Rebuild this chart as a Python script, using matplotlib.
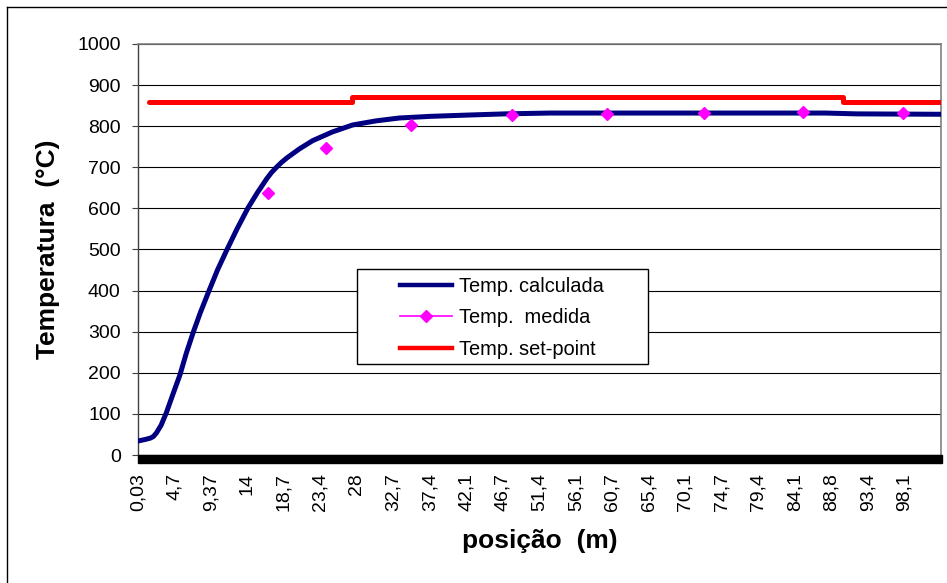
import matplotlib
matplotlib.use("Agg")
import matplotlib.pyplot as plt
from matplotlib.lines import Line2D
from matplotlib.patches import Rectangle

plt.rcParams['font.family'] = ['Liberation Sans', 'DejaVu Sans']

# perfil de temperatura calculado ao longo do forno
pos_calc = [0.03, 1.0, 1.6, 2.0, 2.4, 3.0, 3.7, 4.5, 5.4, 6.2, 7.07, 8.0, 9.0,
            10.2, 11.4, 12.7, 14.1, 15.3, 15.9, 16.5, 17.1, 17.8, 18.4, 19.1,
            20.7, 22.4, 24.9, 27.5, 30.5, 33.5, 37.5, 42.1, 47.0, 52.7, 60.0,
            70.0, 80.0, 88.0, 92.0, 102.8]
temp_calc = [34, 38, 41, 45, 54, 73, 105, 148, 195, 247, 297, 346, 394,
             450, 499, 550, 601, 638, 655, 672, 687, 701, 712, 723,
             745, 765, 786, 803, 813, 820, 824, 827, 830, 832, 832,
             832, 832, 832, 830, 829]

# termopares
pos_med = [16.66, 24.08, 34.96, 47.88, 60.03, 72.44, 85.1, 97.9]
temp_med = [637, 746, 802, 827, 830, 833, 835, 832]

# set-point por zona
pos_sp = [1.44, 27.4, 90.2, 102.8]
temp_sp = [860, 870, 860, 860]

tick_labels = ["0,03", "4,7", "9,37", "14", "18,7", "23,4", "28", "32,7", "37,4",
               "42,1", "46,7", "51,4", "56,1", "60,7", "65,4", "70,1", "74,7",
               "79,4", "84,1", "88,8", "93,4", "98,1"]

W, H = 947, 583
fig = plt.figure(figsize=(W / 100, H / 100), dpi=100)
fig.patch.set_facecolor('white')

def fx(px):
    return px / W

def fy(py):
    return 1 - py / H

ax = fig.add_axes([fx(138), fy(455), fx(941) - fx(138), fy(44) - fy(455)])

ax.plot(pos_calc, temp_calc, color='#000080', lw=3.6, solid_capstyle='round',
        solid_joinstyle='round', zorder=4)
ax.plot(pos_med, temp_med, ls='none', marker='D', ms=6.2, color='#FF00FF',
        mec='#FF00FF', zorder=5)
ax.plot(pos_sp, temp_sp, drawstyle='steps-post', color='#FF0000', lw=3.6,
        solid_capstyle='round', zorder=3)

ax.set_xlim(0.03, 102.8)
ax.set_ylim(0, 1000)
ax.set_yticks(range(0, 1001, 100))
ax.yaxis.grid(True, color='black', lw=0.8)
ax.set_axisbelow(True)

step = 4.67
ax.set_xticks([0.03 + i * step for i in range(len(tick_labels))])
ax.set_xticklabels(tick_labels, rotation=90, fontsize=14)
ax.tick_params(axis='x', length=0, pad=13)
ax.tick_params(axis='y', length=4.5, width=0.8, color='#404040', labelsize=14,
               pad=8, direction='out')

for side in ['top', 'right']:
    ax.spines[side].set_color('#808080')
    ax.spines[side].set_linewidth(1.2)
ax.spines['left'].set_color('#404040')
ax.spines['left'].set_linewidth(1.0)
ax.spines['bottom'].set_color('#808080')
ax.spines['bottom'].set_linewidth(0.8)

# faixa preta das marcas de categoria
ax.add_patch(Rectangle((0, -8 / 411), 1.0015, 8 / 411, transform=ax.transAxes,
                       clip_on=False, color='black', zorder=6))

ax.set_ylabel("Temperatura  (°C)", fontsize=19, fontweight='bold')
ax.yaxis.set_label_coords((48 - 138) / 804, 0.5)
ax.yaxis.label.set_va('center')
ax.set_xlabel("posição  (m)", fontsize=19, fontweight='bold')
ax.xaxis.set_label_coords((540 - 138) / 804, (455 - 541) / 411)
ax.xaxis.label.set_va('center')

# legenda com moldura própria
fig.add_artist(Rectangle((fx(357), fy(364)), fx(648) - fx(357), fy(269) - fy(364),
                         transform=fig.transFigure, facecolor='white',
                         edgecolor='black', lw=1.0, zorder=7))
handles = [
    Line2D([], [], color='#000080', lw=3.2),
    Line2D([], [], color='#FF00FF', lw=1.2, marker='D', ms=6.2),
    Line2D([], [], color='#FF0000', lw=3.2),
]
labels = ["Temp. calculada", "Temp.  medida", "Temp. set-point"]
leg = fig.legend(handles, labels, loc='upper left',
                 bbox_to_anchor=(fx(400), fy(277)), frameon=False, fontsize=14.4,
                 handlelength=2.6, handletextpad=0.35, labelspacing=0.62,
                 borderpad=0.0, borderaxespad=0)
leg.set_zorder(8)

# moldura externa da figura
fig.add_artist(Line2D([fx(6.5), fx(6.5)], [fy(6.5), 0], color='black', lw=1.0))
fig.add_artist(Line2D([fx(6.5), 1], [fy(6.5), fy(6.5)], color='black', lw=1.0))

fig.savefig("out.png", dpi=100)
